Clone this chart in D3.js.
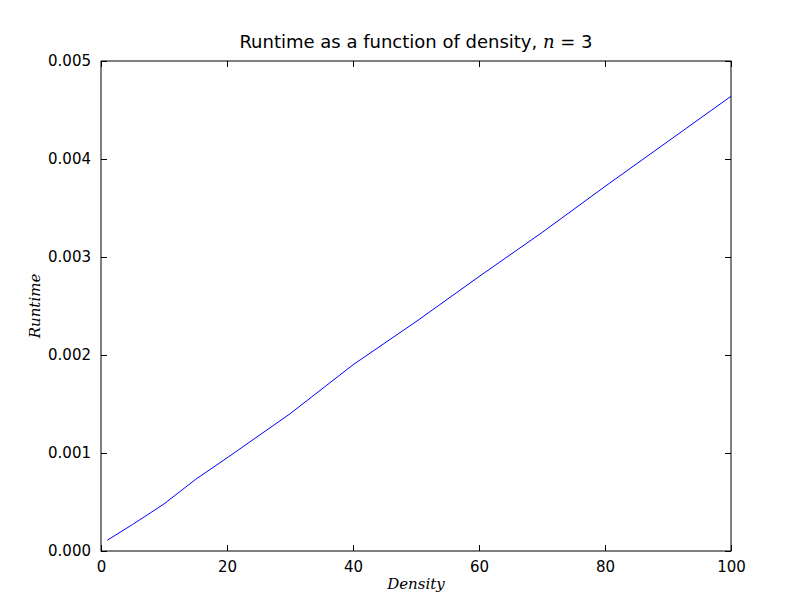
<!DOCTYPE html>
<html><head><meta charset="utf-8">
<script src="https://cdn.jsdelivr.net/npm/d3@7"></script>
<style>body{margin:0;background:#fff}text{font-family:"DejaVu Sans",sans-serif}.math{font-family:"DejaVu Serif",serif;font-style:italic}</style>
</head><body><div id="chart"></div>
<script>
const density = [1, 5, 10, 15, 20, 30, 40, 50, 60, 70, 80, 90, 100];
const runtime = [0.00011, 0.00027, 0.00048, 0.00073, 0.00095, 0.0014, 0.0019, 0.00234, 0.0028, 0.00325, 0.00372, 0.00418, 0.00464];
const xTicks = [0, 20, 40, 60, 80, 100];
const yTicks = [0, 0.001, 0.002, 0.003, 0.004, 0.005];

const W = 812, H = 612;
const margin = {top: 61, right: 81, bottom: 61, left: 101};
const w = W - margin.left - margin.right, h = H - margin.top - margin.bottom;

const svg = d3.select("#chart").append("svg").attr("width", W).attr("height", H);
const g = svg.append("g").attr("transform", "translate(" + margin.left + "," + margin.top + ")");

const x = d3.scaleLinear().domain([0, 100]).range([0, w]);
const y = d3.scaleLinear().domain([0, 0.005]).range([h, 0]);

function styleAxis(sel) {
    sel.select(".domain").remove();
    sel.selectAll("text").attr("font-size", "15px").attr("fill", "#000");
    sel.selectAll("line").attr("stroke", "#000");
}

g.append("g").attr("transform", "translate(0," + h + ")")
    .call(d3.axisBottom(x).tickValues(xTicks).tickSize(-6).tickPadding(10).tickFormat(d3.format("d")))
    .call(styleAxis);
g.append("g")
    .call(d3.axisTop(x).tickValues(xTicks).tickSize(-6).tickFormat(""))
    .call(styleAxis);
g.append("g")
    .call(d3.axisLeft(y).tickValues(yTicks).tickSize(-6).tickPadding(10).tickFormat(d3.format(".3f")))
    .call(styleAxis);
g.append("g").attr("transform", "translate(" + w + ",0)")
    .call(d3.axisRight(y).tickValues(yTicks).tickSize(-6).tickFormat(""))
    .call(styleAxis);

g.append("rect").attr("width", w).attr("height", h).attr("fill", "none").attr("stroke", "#000");

g.append("path").datum(density.map((d, i) => [d, runtime[i]]))
    .attr("fill", "none").attr("stroke", "#0000ff").attr("stroke-width", 1)
    .attr("d", d3.line().x(d => x(d[0])).y(d => y(d[1])));

svg.append("text").attr("x", margin.left + w / 2).attr("y", 48).attr("text-anchor", "middle")
    .attr("font-size", "18px").html('Runtime as a function of density, <tspan class="math">n</tspan> = 3');
svg.append("text").attr("class", "math").attr("x", margin.left + w / 2).attr("y", 589).attr("text-anchor", "middle")
    .attr("font-size", "15px").text("Density");
svg.append("text").attr("class", "math").attr("transform", "translate(40," + (margin.top + h / 2) + ") rotate(-90)").attr("text-anchor", "middle")
    .attr("font-size", "15px").text("Runtime");
</script></body></html>
